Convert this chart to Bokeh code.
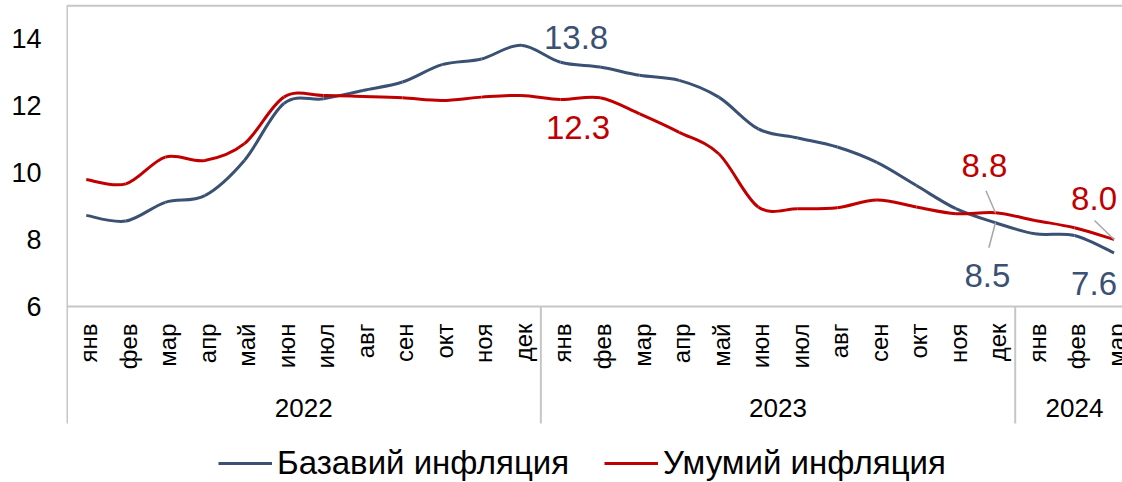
import numpy as np
from bokeh.plotting import figure
from bokeh.models import Range1d, FixedTicker, Legend, LegendItem, ColumnDataSource
from bokeh.core.properties import value
from bokeh.embed import file_html
from bokeh.resources import INLINE

# ---------------- data ----------------
months = ["янв", "фев", "мар", "апр", "май", "июн", "июл", "авг", "сен", "окт", "ноя", "дек"]
years = ["2022", "2023", "2024"]
months_per_year = [12, 12, 3]
month_labels = months * 2 + months[:3]

core_inflation = [8.72, 8.55, 9.11, 9.31, 10.36, 12.06, 12.20, 12.45, 12.70, 13.22, 13.39, 13.80,
                  13.29, 13.15, 12.90, 12.75, 12.25, 11.30, 11.03, 10.76, 10.30, 9.61, 8.92, 8.50,
                  8.17, 8.12, 7.60]
headline_inflation = [9.79, 9.66, 10.46, 10.36, 10.86, 12.25, 12.30, 12.27, 12.23, 12.15, 12.25, 12.30,
                      12.18, 12.23, 11.75, 11.20, 10.56, 8.97, 8.92, 8.95, 9.18, 8.97, 8.77, 8.80,
                      8.57, 8.35, 8.00]
y_ticks = [6, 8, 10, 12, 14]
series_names = ["Базавий инфляция", "Умумий инфляция"]

# labelled points (index into the series)
label_points_core = [11, 23, 26]
label_points_head = [11, 23, 26]

# ---------------- style / layout ----------------
BLUE = "#3B5174"
RED = "#C00000"
GRID_GRAY = "#C6C6C6"
LEADER_GRAY = "#A6A6A6"
FONT = "Liberation Sans"

W, H = 1122, 482
LEFT = 66
PX_PER_CAT = 39.53
PX_PER_UNIT = 33.5
X_START = -0.5
X_END = X_START + (W - LEFT) / PX_PER_CAT
Y_TOP = 14 + 38 / PX_PER_UNIT
Y_BOTTOM = Y_TOP - H / PX_PER_UNIT
Y_AXIS = 6.0
FRAME_TOP = Y_TOP - 5.3 / PX_PER_UNIT
MONTH_Y = Y_AXIS - 17 / PX_PER_UNIT
YEAR_Y = Y_AXIS - 101 / PX_PER_UNIT
SEP_BOTTOM = Y_AXIS - 117 / PX_PER_UNIT

n = len(month_labels)
xs = np.arange(n, dtype=float)


def bezier_segments(x, y):
    x = np.asarray(x, float)
    y = np.asarray(y, float)
    m = len(x)
    xp = np.concatenate([[x[0]], x, [x[-1]]])
    yp = np.concatenate([[y[0]], y, [y[-1]]])
    d = dict(x0=[], y0=[], x1=[], y1=[], cx0=[], cy0=[], cx1=[], cy1=[])
    for i in range(m - 1):
        j = i + 1
        d["x0"].append(x[i]); d["y0"].append(y[i])
        d["x1"].append(x[i + 1]); d["y1"].append(y[i + 1])
        d["cx0"].append(x[i] + (xp[j + 1] - xp[j - 1]) / 6)
        d["cy0"].append(y[i] + (yp[j + 1] - yp[j - 1]) / 6)
        d["cx1"].append(x[i + 1] - (xp[j + 2] - xp[j]) / 6)
        d["cy1"].append(y[i + 1] - (yp[j + 2] - yp[j]) / 6)
    return ColumnDataSource(d)


p = figure(width=W, height=H, x_range=Range1d(X_START, X_END), y_range=Range1d(Y_BOTTOM, Y_TOP),
           output_backend="svg", toolbar_location=None, x_axis_location=None,
           min_border_left=LEFT, min_border_right=0, min_border_top=0, min_border_bottom=0,
           outline_line_color=None, background_fill_color="white", border_fill_color="white")
p.xgrid.visible = False
p.ygrid.visible = False

ax = p.yaxis[0]
ax.ticker = FixedTicker(ticks=y_ticks)
ax.axis_line_color = None
ax.major_tick_line_color = None
ax.minor_tick_line_color = None
ax.major_tick_out = 0
ax.major_label_standoff = 25
ax.major_label_text_font = FONT
ax.major_label_text_font_size = "27px"
ax.major_label_text_color = "black"

# plot-area frame and category separators
bounds = np.concatenate([[0], np.cumsum(months_per_year)]) - 0.5
p.segment(x0=[X_START], y0=[Y_AXIS], x1=[X_END], y1=[Y_AXIS], line_color=GRID_GRAY, line_width=2)
p.segment(x0=[X_START], y0=[FRAME_TOP], x1=[X_END], y1=[FRAME_TOP], line_color=GRID_GRAY, line_width=2)
p.segment(x0=[bounds[0] + 0.012], y0=[SEP_BOTTOM], x1=[bounds[0] + 0.012], y1=[FRAME_TOP],
          line_color=GRID_GRAY, line_width=2)
p.segment(x0=list(bounds[1:-1]), y0=[SEP_BOTTOM] * (len(bounds) - 2),
          x1=list(bounds[1:-1]), y1=[Y_AXIS] * (len(bounds) - 2), line_color=GRID_GRAY, line_width=2)

# category labels
p.text(x=list(xs + 0.06), y=[MONTH_Y] * n, text=month_labels, angle=np.pi / 2,
       text_align="right", text_baseline="middle", text_font=value(FONT),
       text_font_size="24px", text_color="black")
year_centers = [(bounds[k] + bounds[k + 1]) / 2 for k in range(len(years))]
p.text(x=year_centers, y=[YEAR_Y] * len(years), text=years, text_align="center",
       text_baseline="middle", text_font=value(FONT), text_font_size="26px", text_color="black")

# series
r_core = p.bezier(x0="x0", y0="y0", x1="x1", y1="y1", cx0="cx0", cy0="cy0", cx1="cx1", cy1="cy1",
                  source=bezier_segments(xs, core_inflation), line_color=BLUE, line_width=3)
r_head = p.bezier(x0="x0", y0="y0", x1="x1", y1="y1", cx0="cx0", cy0="cy0", cx1="cx1", cy1="cy1",
                  source=bezier_segments(xs, headline_inflation), line_color=RED, line_width=3)


# leader lines (pixel offsets from point)
def lead(i, yv, dxp, dyp):
    return (xs[i], yv, xs[i] + dxp / PX_PER_CAT, yv - dyp / PX_PER_UNIT)


leaders = [lead(23, headline_inflation[23], -9.5, -22), lead(23, core_inflation[23], -6.6, 25),
           lead(26, headline_inflation[26], -19.5, -19)]
p.segment(x0=[l[0] for l in leaders], y0=[l[1] for l in leaders], x1=[l[2] for l in leaders],
          y1=[l[3] for l in leaders], line_color=LEADER_GRAY, line_width=1.5)

# data labels
core_src = ColumnDataSource(dict(
    x=[xs[i] for i in label_points_core], y=[core_inflation[i] for i in label_points_core],
    t=["%.1f" % core_inflation[i] for i in label_points_core],
    dx=[55, -8, -20], dy=[-8, 53, 31]))
head_src = ColumnDataSource(dict(
    x=[xs[i] for i in label_points_head], y=[headline_inflation[i] for i in label_points_head],
    t=["%.1f" % headline_inflation[i] for i in label_points_head],
    dx=[57, -11, -20], dy=[32, -47, -41]))
for src, col in ((core_src, BLUE), (head_src, RED)):
    p.text(x="x", y="y", text="t", x_offset="dx", y_offset="dy", source=src, text_align="center",
           text_baseline="middle", text_font=value(FONT), text_font_size="33px", text_color=col)

legend = Legend(items=[LegendItem(label=series_names[0], renderers=[r_core]),
                       LegendItem(label=series_names[1], renderers=[r_head])],
                orientation="horizontal", location=(152, 0), glyph_width=54, glyph_height=20,
                label_standoff=5, spacing=35, padding=0, margin=0, border_line_alpha=0,
                background_fill_alpha=0, label_text_font=FONT, label_text_font_size="33px",
                label_text_color="black")
p.add_layout(legend)

open("out.html", "w").write(file_html(p, INLINE))
